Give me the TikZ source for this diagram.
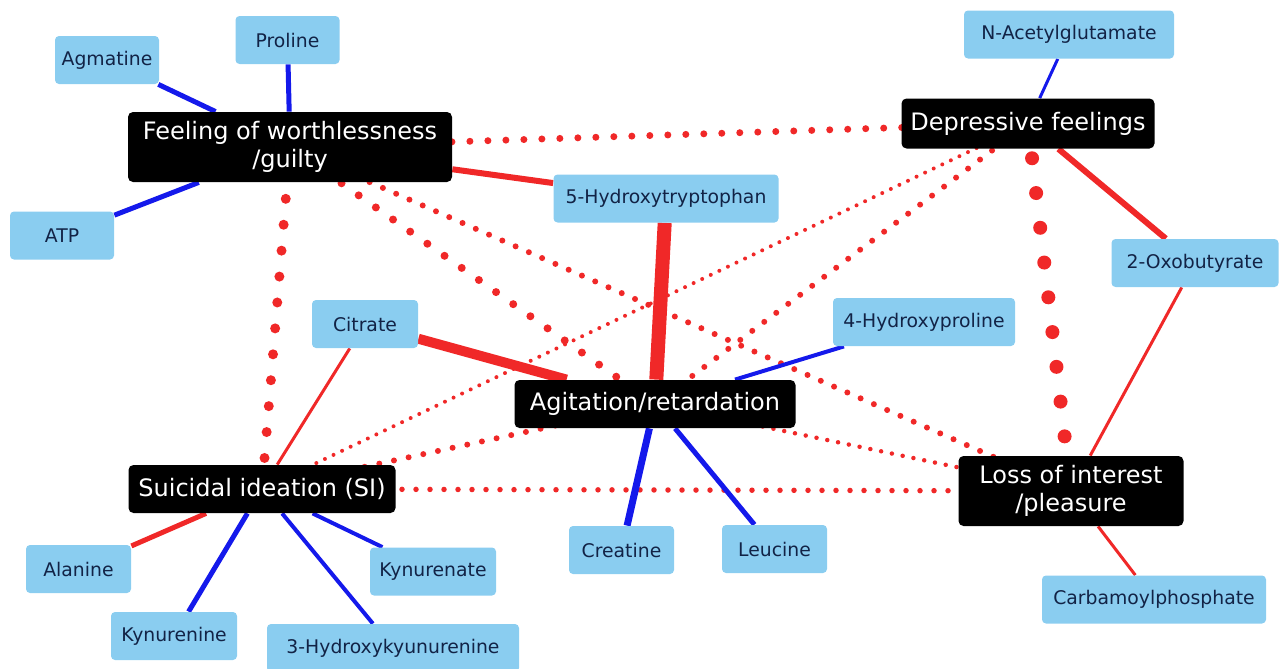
\documentclass[tikz,border=0pt]{standalone}
\usepackage{fontspec}
\setmainfont{DejaVu Sans}
\usetikzlibrary{backgrounds}
\definecolor{edgered}{RGB}{240,40,40}
\definecolor{edgeblue}{RGB}{20,25,235}
\definecolor{metfill}{RGB}{138,205,240}
\definecolor{mettext}{RGB}{18,35,70}
\newcommand{\metfont}{\fontsize{9.4}{11}\selectfont}
\newcommand{\symfont}{\fontsize{12}{14}\selectfont}
\begin{document}
\begin{tikzpicture}[x=0.5pt,y=-0.5pt,
  met/.style={fill=metfill, text=mettext, font=\metfont, rounded corners=2pt, minimum height=24pt, inner sep=0pt},
  sym/.style={fill=black, text=white, font=\symfont, rounded corners=2.5pt, align=center, inner sep=0pt},
  redline/.style={draw=edgered, line width=#1},
  blueline/.style={draw=edgeblue, line width=#1},
  dotline/.style 2 args={draw=edgered, line width=#1, dash pattern=on 0pt off #2, line cap=round}]
\useasboundingbox (0,0) rectangle (1285,669);
% metabolites
\node[met, minimum width=52pt] (agm) at (107,60) {Agmatine};
\node[met, minimum width=52pt] (pro) at (287.5,40) {Proline};
\node[met, minimum width=52pt] (atp) at (62,235.5) {ATP};
\node[met, minimum width=105pt] (nag) at (1069,34.5) {N-Acetylglutamate};
\node[met, minimum width=112.5pt] (hty) at (666,198.5) {5-Hydroxytryptophan};
\node[met, minimum width=83.5pt] (oxo) at (1195,263) {2-Oxobutyrate};
\node[met, minimum width=53pt] (cit) at (365,324) {Citrate};
\node[met, minimum width=91pt] (hyp) at (924,322) {4-Hydroxyproline};
\node[met, minimum width=52.5pt] (cre) at (621.5,550) {Creatine};
\node[met, minimum width=52.5pt] (leu) at (774.5,549) {Leucine};
\node[met, minimum width=52.5pt] (ala) at (78.5,569) {Alanine};
\node[met, minimum width=63pt] (kya) at (433,571.5) {Kynurenate};
\node[met, minimum width=63pt] (kyn) at (174,636) {Kynurenine};
\node[met, minimum width=126pt] (hk) at (393,648) {3-Hydroxykyunurenine};
\node[met, minimum width=112pt] (carb) at (1154,599.5) {Carbamoylphosphate};
% symptoms
\node[sym, minimum width=162pt, minimum height=35pt] (fw) at (290,147) {Feeling of worthlessness\\/guilty};
\node[sym, minimum width=126.5pt, minimum height=25pt] (df) at (1028,123.5) {Depressive feelings};
\node[sym, minimum width=140.5pt, minimum height=24pt] (ar) at (655,404) {Agitation/retardation};
\node[sym, minimum width=133.5pt, minimum height=24pt] (si) at (262,489) {Suicidal ideation (SI)};
\node[sym, minimum width=112.5pt, minimum height=35pt] (li) at (1071,491) {Loss of interest\\/pleasure};
\begin{pgfonlayer}{background}
% dotted symptom links
\draw[dotline={3.5pt}{9pt}] (fw.center) -- (df.center);
\draw[dotline={5pt}{13pt}] (fw.center) -- (si.center);
\draw[dotline={4pt}{10.5pt}] (fw.center) -- (ar.center);
\draw[dotline={3pt}{7.25pt}] (fw.center) -- (li.center);
\draw[dotline={2pt}{4.75pt}] (df.center) -- (si.center);
\draw[dotline={3pt}{7.5pt}] (df.center) -- (ar.center);
\draw[dotline={7pt}{17.5pt}] (df.center) -- (li.center);
\draw[dotline={3pt}{7.5pt}] (si.center) -- (ar.center);
\draw[dotline={2.75pt}{7pt}] (si.center) -- (li.center);
\draw[dotline={2.25pt}{5.5pt}] (ar.center) -- (li.center);
% red solid
\draw[redline=3pt] (fw) -- (hty);
\draw[redline=7pt] (hty) -- (ar);
\draw[redline=5pt] (cit) -- (ar);
\draw[redline=1.5pt] (cit) -- (si);
\draw[redline=2.5pt] (si) -- (ala);
\draw[redline=3pt] (df) -- (oxo);
\draw[redline=1.5pt] (oxo) -- (li);
\draw[redline=1.5pt] (li) -- (carb);
% blue solid
\draw[blueline=2.5pt] (agm) -- (fw);
\draw[blueline=2.5pt] (pro) -- (fw);
\draw[blueline=2.5pt] (atp) -- (fw);
\draw[blueline=1.5pt] (nag) -- (df);
\draw[blueline=2pt] (hyp) -- (ar);
\draw[blueline=3.5pt] (cre) -- (ar);
\draw[blueline=2.5pt] (leu) -- (ar);
\draw[blueline=2.5pt] (si) -- (kyn);
\draw[blueline=2pt] (si) -- (hk);
\draw[blueline=2pt] (si) -- (kya);
\end{pgfonlayer}
\end{tikzpicture}
\end{document}
